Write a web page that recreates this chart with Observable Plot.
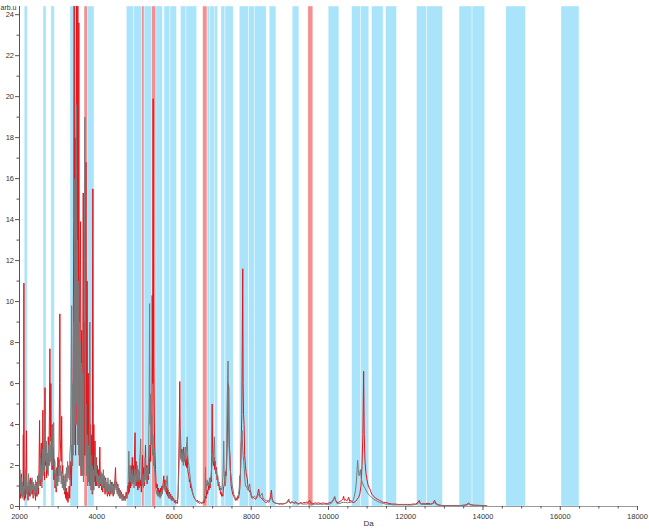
<!DOCTYPE html>
<html><head><meta charset="utf-8">
<script src="https://cdn.jsdelivr.net/npm/d3@7"></script>
<script src="https://cdn.jsdelivr.net/npm/@observablehq/plot@0.6"></script>
<style>body{margin:0;background:#fff}#chart svg{display:block;overflow:visible}</style>
</head><body><div id="chart"></div>
<script>
const xDomain = [2000, 18000];
const yDomain = [0, 24.4];
const xMajorTicks = [2000, 4000, 6000, 8000, 10000, 12000, 14000, 16000, 18000];
const xMinorTicks = [2500, 3000, 3500, 4500, 5000, 5500, 6500, 7000, 7500, 8500, 9000, 9500, 10500, 11000, 11500, 12500, 13000, 13500, 14500, 15000, 15500, 16500, 17000, 17500];
const yMajorTicks = [0, 2, 4, 6, 8, 10, 12, 14, 16, 18, 20, 22, 24];
const yMinorTicks = [1, 3, 5, 7, 9, 11, 13, 15, 17, 19, 21, 23];
const yLabel = "arb.u";
const xLabel = "Da";

const blueBands = [[2135,2215],[2620,2700],[2825,2915],[3320,3540],[3770,3943],[4778,4960],[4960,5177],[5236,5436],[5542,5715],[5754,5909],[5909,6077],[6180,6323],[6323,6600],[6866,6944],[6944,7055],[7055,7143],[7228,7332],[7332,7547],[7702,7943],[7943,8090],[8090,8401],[8478,8651],[9073,9246],[10004,10281],[10610,10850],[10850,11057],[11127,11427],[11489,11774],[12291,12550],[12550,12964],[13393,13730],[13730,14058],[14602,15112],[16032,16498]];
const redBands = [[3684,3770],[5177,5236],[5436,5542],[6755,6866],[9478,9608]];

const redSpectrum = [[2000,0.6],[2015,1.2],[2030,0.4],[2045,1.6],[2060,0.7],[2075,1.1],[2090,0.5],[2098,3.5],[2106,0.6],[2114,10.9],[2122,0.3],[2135,0.9],[2150,0.4],[2165,1.3],[2180,3.7],[2192,0.6],[2205,1.0],[2220,0.3],[2235,0.8],[2250,1.2],[2265,0.5],[2280,1.4],[2295,0.7],[2310,1.3],[2325,0.6],[2340,1.0],[2355,0.4],[2370,1.1],[2385,0.6],[2400,0.9],[2415,0.3],[2430,1.2],[2445,0.5],[2460,0.8],[2475,1.5],[2490,0.6],[2505,1.8],[2520,4.2],[2535,1.0],[2550,2.5],[2565,3.1],[2580,1.2],[2595,2.2],[2605,4.7],[2620,1.8],[2635,2.6],[2648,1.3],[2660,5.8],[2672,2.0],[2685,3.0],[2700,1.4],[2715,2.3],[2730,1.6],[2745,3.4],[2760,2.0],[2775,4.5],[2787,7.7],[2800,3.2],[2812,6.0],[2825,2.1],[2845,4.0],[2860,1.8],[2875,2.9],[2890,1.3],[2905,2.3],[2920,0.9],[2935,1.6],[2950,0.7],[2965,1.9],[2980,1.2],[2995,2.4],[3010,1.5],[3025,2.8],[3037,6.0],[3045,9.4],[3055,3.3],[3065,2.8],[3078,2.2],[3092,4.4],[3105,1.6],[3120,2.0],[3135,1.0],[3150,1.5],[3165,0.6],[3180,1.2],[3195,0.4],[3210,0.9],[3225,0.3],[3240,0.7],[3255,0.2],[3270,0.5],[3285,1.0],[3300,0.4],[3315,1.5],[3330,2.2],[3345,1.0],[3360,3.0],[3375,2.0],[3390,7.5],[3405,14.0],[3416,26],[3428,3.0],[3440,18.0],[3452,2.5],[3465,12.0],[3477,26],[3490,4.0],[3500,16.3],[3511,26],[3522,3.0],[3537,23.6],[3550,2.0],[3565,11.0],[3581,13.9],[3595,1.5],[3610,8.6],[3625,2.0],[3638,7.0],[3650,15.3],[3662,1.5],[3675,9.0],[3690,2.5],[3705,12.0],[3720,16.8],[3735,2.0],[3750,11.0],[3765,1.5],[3780,6.5],[3795,1.2],[3810,5.0],[3825,1.0],[3840,4.0],[3855,0.8],[3870,3.5],[3885,0.6],[3899,15.5],[3910,0.8],[3925,4.0],[3940,1.2],[3955,3.2],[3970,1.0],[3985,2.4],[4000,1.0],[4015,2.0],[4030,1.2],[4045,1.8],[4060,0.9],[4080,2.9],[4095,1.0],[4110,1.6],[4125,0.8],[4140,1.3],[4155,0.7],[4170,1.5],[4185,0.9],[4200,1.2],[4215,0.6],[4230,1.4],[4245,0.7],[4260,1.0],[4275,0.5],[4290,1.1],[4305,0.6],[4320,0.9],[4335,0.5],[4350,1.0],[4365,0.6],[4380,1.2],[4395,0.7],[4410,0.9],[4425,0.5],[4440,1.1],[4455,0.8],[4470,1.3],[4486,1.9],[4500,0.9],[4515,1.2],[4530,0.7],[4545,1.1],[4560,0.6],[4575,0.9],[4590,0.5],[4605,0.8],[4620,0.4],[4640,0.7],[4660,0.3],[4680,0.6],[4700,0.3],[4720,0.5],[4740,0.3],[4760,0.7],[4780,0.4],[4800,1.0],[4815,0.6],[4830,1.2],[4845,0.7],[4860,1.5],[4875,0.9],[4890,2.0],[4905,1.1],[4920,2.4],[4935,1.3],[4950,2.0],[4965,1.2],[4980,2.8],[4992,3.6],[5005,1.5],[5020,2.2],[5035,1.0],[5050,1.6],[5065,0.8],[5080,1.4],[5095,0.9],[5110,1.7],[5125,1.0],[5140,1.3],[5155,0.7],[5170,1.8],[5185,2.5],[5200,1.2],[5215,1.9],[5230,1.0],[5245,1.6],[5262,3.0],[5275,1.4],[5290,2.0],[5305,1.1],[5320,1.8],[5335,1.3],[5350,2.4],[5365,1.6],[5380,3.0],[5395,2.2],[5410,4.0],[5425,3.5],[5436,10.3],[5448,6.0],[5461,19.9],[5472,7.0],[5485,5.0],[5497,3.2],[5510,2.5],[5522,1.8],[5535,1.2],[5550,0.9],[5565,1.1],[5580,0.6],[5595,0.9],[5610,0.5],[5625,0.8],[5640,0.5],[5655,0.9],[5670,0.6],[5685,1.0],[5700,0.7],[5715,1.1],[5736,1.5],[5750,0.9],[5765,1.3],[5780,0.8],[5795,1.0],[5810,0.6],[5825,0.9],[5840,0.5],[5855,0.8],[5870,0.4],[5885,0.7],[5900,0.4],[5915,0.6],[5930,0.3],[5950,0.5],[5970,0.3],[5990,0.4],[6010,0.2],[6030,0.3],[6050,0.15],[6070,0.2],[6090,0.15],[6105,0.6],[6118,1.8],[6130,3.0],[6142,4.5],[6150,6.1],[6160,3.8],[6172,3.2],[6185,2.4],[6198,2.8],[6212,2.6],[6225,2.2],[6240,2.7],[6253,2.9],[6268,2.2],[6283,2.5],[6297,2.0],[6312,2.3],[6326,1.9],[6341,2.5],[6356,1.8],[6370,1.6],[6385,1.5],[6400,1.2],[6415,1.3],[6430,0.9],[6445,1.0],[6460,0.8],[6475,0.7],[6490,0.6],[6510,0.5],[6530,0.4],[6550,0.35],[6570,0.3],[6590,0.25],[6610,0.3],[6630,0.2],[6650,0.25],[6670,0.2],[6690,0.2],[6710,0.15],[6730,0.2],[6750,0.15],[6770,0.25],[6790,0.2],[6810,0.5],[6830,0.4],[6850,0.8],[6870,0.6],[6890,1.0],[6905,0.8],[6920,1.1],[6935,0.9],[6950,1.4],[6965,1.2],[6978,2.5],[6988,5.0],[6998,3.0],[7010,2.2],[7025,2.0],[7040,2.4],[7055,1.8],[7070,2.2],[7085,1.6],[7100,1.9],[7115,1.3],[7130,1.5],[7145,1.0],[7160,1.2],[7175,0.8],[7190,0.9],[7205,0.6],[7220,0.7],[7235,0.5],[7250,0.6],[7265,0.5],[7280,0.9],[7295,1.0],[7310,1.2],[7330,1.7],[7350,1.5],[7365,2.2],[7376,3.0],[7390,4.5],[7405,6.0],[7418,5.8],[7430,3.0],[7450,2.5],[7465,1.5],[7480,1.0],[7500,0.8],[7520,0.6],[7547,0.5],[7570,0.4],[7590,0.3],[7610,0.4],[7630,0.3],[7650,0.5],[7670,0.4],[7690,0.6],[7705,0.9],[7720,1.5],[7739,3.0],[7755,4.5],[7768,8.0],[7780,11.6],[7790,6.0],[7800,4.5],[7815,4.0],[7830,2.5],[7850,2.0],[7870,1.6],[7893,1.4],[7915,1.0],[7936,0.8],[7960,0.7],[7980,0.8],[8000,0.5],[8023,0.4],[8050,0.45],[8080,0.4],[8110,0.35],[8140,0.45],[8165,0.6],[8180,0.75],[8193,0.85],[8210,0.6],[8230,0.45],[8255,0.4],[8280,0.4],[8310,0.3],[8340,0.25],[8366,0.2],[8400,0.2],[8430,0.25],[8452,0.2],[8480,0.3],[8500,0.55],[8522,0.8],[8540,0.4],[8565,0.25],[8600,0.2],[8640,0.15],[8680,0.15],[8720,0.12],[8760,0.15],[8800,0.12],[8840,0.15],[8880,0.15],[8920,0.2],[8950,0.3],[8969,0.35],[8990,0.2],[9020,0.18],[9055,0.25],[9090,0.18],[9120,0.15],[9160,0.2],[9200,0.15],[9240,0.15],[9280,0.2],[9320,0.15],[9360,0.2],[9400,0.18],[9440,0.22],[9480,0.2],[9510,0.3],[9540,0.18],[9580,0.15],[9620,0.15],[9660,0.18],[9700,0.15],[9740,0.18],[9780,0.15],[9820,0.15],[9860,0.18],[9900,0.15],[9940,0.15],[9980,0.15],[10020,0.18],[10060,0.2],[10100,0.25],[10130,0.35],[10160,0.45],[10185,0.3],[10220,0.2],[10260,0.2],[10300,0.25],[10340,0.3],[10370,0.35],[10392,0.5],[10410,0.3],[10440,0.35],[10462,0.3],[10490,0.3],[10523,0.45],[10550,0.25],[10583,0.3],[10620,0.2],[10660,0.2],[10700,0.25],[10740,0.35],[10780,0.45],[10810,0.6],[10840,1.0],[10868,2.0],[10890,3.5],[10910,6.6],[10925,3.5],[10945,2.2],[10970,1.6],[10997,1.3],[11030,1.0],[11060,0.9],[11083,0.8],[11120,0.6],[11170,0.5],[11220,0.4],[11270,0.35],[11320,0.3],[11370,0.25],[11420,0.2],[11470,0.2],[11515,0.18],[11570,0.15],[11640,0.12],[11720,0.12],[11800,0.1],[11880,0.1],[11960,0.1],[12040,0.1],[12120,0.1],[12200,0.12],[12260,0.12],[12310,0.2],[12350,0.3],[12380,0.15],[12420,0.12],[12460,0.15],[12500,0.12],[12550,0.15],[12600,0.15],[12640,0.12],[12700,0.15],[12746,0.3],[12780,0.15],[12830,0.1],[12890,0.06],[12960,0.05],[13050,0.05],[13150,0.04],[13250,0.05],[13350,0.05],[13450,0.05],[13550,0.08],[13600,0.12],[13627,0.18],[13660,0.1],[13713,0.08],[13780,0.06],[13850,0.06],[13950,0.05],[14050,0.04],[14100,0.03]];

const greySpectrum = [[2000,1.0],[2012,1.8],[2025,0.6],[2040,1.4],[2055,0.5],[2070,1.2],[2085,0.4],[2100,1.0],[2115,0.5],[2130,1.5],[2145,0.8],[2160,1.8],[2175,0.6],[2190,1.2],[2205,0.4],[2220,1.0],[2235,1.6],[2250,0.7],[2265,1.3],[2280,0.5],[2295,1.1],[2310,0.6],[2325,1.4],[2340,0.8],[2355,1.2],[2370,0.5],[2385,1.0],[2400,0.6],[2415,1.3],[2430,0.7],[2445,1.1],[2460,0.5],[2475,1.4],[2490,0.9],[2505,1.6],[2520,1.1],[2535,2.4],[2550,1.3],[2565,2.0],[2580,0.9],[2595,2.8],[2610,1.5],[2625,3.0],[2640,1.7],[2655,3.5],[2668,4.5],[2680,2.2],[2695,3.2],[2710,1.8],[2725,2.6],[2740,1.5],[2755,3.0],[2770,2.0],[2785,3.4],[2800,2.2],[2815,3.0],[2830,1.8],[2845,3.9],[2860,2.0],[2885,4.1],[2900,1.6],[2915,2.2],[2930,1.0],[2945,1.8],[2960,0.9],[2975,1.5],[2990,1.0],[3005,1.9],[3020,1.2],[3035,2.3],[3050,1.5],[3065,2.0],[3080,1.1],[3095,1.7],[3110,0.9],[3125,1.5],[3140,0.8],[3155,1.3],[3170,0.7],[3185,1.6],[3200,1.0],[3215,1.9],[3230,1.2],[3245,2.2],[3260,1.4],[3275,2.0],[3290,1.3],[3305,2.6],[3320,3.0],[3335,5.5],[3350,9.8],[3362,2.0],[3375,6.0],[3390,2.5],[3405,9.0],[3420,3.0],[3432,16.0],[3445,4.0],[3458,14.0],[3470,19.6],[3482,5.0],[3495,13.0],[3508,3.0],[3520,11.0],[3535,2.5],[3550,9.0],[3565,2.0],[3580,8.0],[3595,1.8],[3610,7.0],[3625,1.5],[3640,6.5],[3655,1.2],[3670,8.0],[3682,12.0],[3692,19.0],[3705,2.5],[3720,5.0],[3735,1.5],[3750,3.5],[3765,1.0],[3780,3.0],[3795,1.2],[3810,3.5],[3821,9.0],[3835,1.0],[3850,2.5],[3865,0.8],[3880,2.0],[3895,0.7],[3910,1.8],[3925,0.8],[3940,1.8],[3955,2.5],[3970,1.5],[3985,2.0],[4000,1.2],[4015,1.6],[4030,1.0],[4045,1.5],[4060,0.9],[4080,1.5],[4095,1.1],[4110,1.7],[4125,1.0],[4140,1.6],[4155,0.9],[4170,1.8],[4185,1.0],[4200,1.5],[4215,0.8],[4230,1.3],[4245,0.7],[4260,1.2],[4275,0.6],[4290,1.4],[4305,0.7],[4320,1.1],[4335,0.6],[4350,1.3],[4365,0.7],[4380,1.1],[4395,0.6],[4410,1.2],[4425,0.7],[4440,1.0],[4455,0.6],[4470,1.2],[4486,1.4],[4500,0.8],[4515,1.1],[4530,0.6],[4545,1.0],[4560,0.5],[4575,0.8],[4590,0.4],[4605,0.7],[4620,0.4],[4640,0.6],[4660,0.3],[4680,0.5],[4700,0.3],[4720,0.4],[4740,0.3],[4760,0.5],[4780,0.4],[4800,0.8],[4815,1.2],[4830,2.7],[4845,1.4],[4860,2.0],[4875,1.2],[4890,1.6],[4905,1.0],[4920,1.8],[4935,1.1],[4950,1.5],[4965,0.9],[4980,1.4],[4992,1.8],[5005,1.0],[5020,1.6],[5035,1.2],[5050,2.0],[5065,1.3],[5080,1.8],[5095,1.2],[5110,2.2],[5125,2.6],[5138,3.3],[5150,1.8],[5165,1.4],[5180,1.0],[5195,1.5],[5210,0.9],[5225,1.6],[5240,1.2],[5255,2.4],[5270,1.3],[5285,1.9],[5300,1.2],[5315,2.0],[5330,1.5],[5345,3.0],[5357,5.0],[5368,9.9],[5380,4.0],[5395,5.5],[5410,3.0],[5425,4.5],[5440,2.5],[5455,3.5],[5470,2.0],[5485,2.8],[5497,1.8],[5510,1.5],[5522,1.0],[5535,0.8],[5550,0.6],[5565,0.8],[5580,0.5],[5595,0.7],[5610,0.5],[5625,0.6],[5640,0.4],[5655,0.7],[5670,0.5],[5685,0.8],[5700,0.6],[5715,0.9],[5736,1.1],[5750,0.8],[5765,1.0],[5780,0.7],[5800,1.1],[5823,1.5],[5840,0.9],[5855,0.7],[5870,0.5],[5885,0.6],[5900,0.4],[5915,0.5],[5930,0.35],[5950,0.4],[5970,0.3],[5990,0.35],[6010,0.3],[6030,0.3],[6050,0.25],[6070,0.3],[6090,0.3],[6105,0.5],[6118,1.2],[6130,2.0],[6142,3.0],[6155,3.8],[6165,2.8],[6178,2.3],[6190,2.6],[6205,2.2],[6212,2.8],[6225,2.4],[6240,2.0],[6253,2.3],[6268,2.6],[6283,2.2],[6297,2.9],[6312,2.5],[6326,3.0],[6341,3.4],[6356,2.5],[6370,2.2],[6385,2.0],[6400,1.7],[6415,1.5],[6430,1.2],[6445,1.1],[6460,0.9],[6475,0.8],[6490,0.6],[6510,0.5],[6530,0.4],[6550,0.35],[6570,0.3],[6590,0.25],[6610,0.2],[6630,0.2],[6650,0.15],[6670,0.15],[6690,0.2],[6710,0.15],[6730,0.2],[6750,0.2],[6770,0.3],[6790,0.4],[6805,0.9],[6815,1.9],[6825,0.8],[6840,1.0],[6858,1.3],[6875,1.0],[6890,1.2],[6905,1.0],[6920,1.4],[6935,1.1],[6950,1.3],[6965,1.6],[6980,2.0],[6995,2.4],[7010,2.2],[7025,2.6],[7035,3.0],[7047,3.4],[7060,2.2],[7073,2.0],[7088,1.6],[7100,1.8],[7115,1.4],[7130,1.5],[7145,1.1],[7160,1.2],[7175,0.9],[7190,1.0],[7205,0.8],[7220,0.9],[7235,0.8],[7250,1.0],[7265,1.4],[7278,2.2],[7288,3.2],[7300,1.6],[7315,1.2],[7330,1.0],[7350,1.6],[7365,2.8],[7376,5.0],[7390,6.2],[7400,7.1],[7412,4.0],[7425,3.0],[7440,2.2],[7455,1.8],[7470,1.6],[7485,1.4],[7500,1.1],[7520,0.9],[7547,0.6],[7570,0.5],[7590,0.4],[7610,0.4],[7630,0.4],[7650,0.5],[7670,0.6],[7690,0.9],[7703,1.5],[7715,1.3],[7728,2.2],[7739,3.0],[7752,3.4],[7763,3.7],[7775,3.0],[7790,2.5],[7805,2.2],[7820,1.8],[7835,1.3],[7850,1.0],[7870,1.0],[7893,0.9],[7915,0.8],[7936,0.9],[7960,1.1],[7980,0.7],[8000,0.55],[8023,0.5],[8050,0.45],[8080,0.5],[8110,0.45],[8140,0.4],[8165,0.5],[8193,0.6],[8220,0.5],[8250,0.55],[8280,0.65],[8300,0.45],[8330,0.35],[8366,0.3],[8400,0.3],[8430,0.3],[8452,0.3],[8480,0.35],[8500,0.4],[8522,0.5],[8545,0.3],[8570,0.2],[8600,0.18],[8640,0.15],[8680,0.15],[8720,0.12],[8760,0.12],[8800,0.12],[8840,0.12],[8880,0.15],[8920,0.18],[8950,0.22],[8969,0.3],[8990,0.2],[9020,0.15],[9055,0.2],[9090,0.18],[9120,0.2],[9142,0.25],[9170,0.15],[9200,0.12],[9240,0.12],[9280,0.15],[9320,0.12],[9360,0.12],[9400,0.12],[9440,0.12],[9480,0.15],[9520,0.12],[9560,0.12],[9600,0.1],[9660,0.12],[9720,0.1],[9780,0.12],[9840,0.1],[9900,0.12],[9960,0.1],[10020,0.12],[10070,0.15],[10110,0.25],[10140,0.4],[10160,0.5],[10180,0.3],[10220,0.15],[10260,0.15],[10300,0.15],[10350,0.2],[10392,0.2],[10440,0.2],[10490,0.18],[10530,0.2],[10580,0.2],[10620,0.25],[10650,0.35],[10670,0.5],[10700,0.8],[10722,1.2],[10740,1.8],[10755,2.25],[10770,1.8],[10790,1.5],[10808,1.6],[10825,1.8],[10845,1.4],[10868,1.2],[10890,1.1],[10910,1.0],[10945,0.9],[10970,0.8],[10997,0.7],[11030,0.6],[11060,0.55],[11083,0.5],[11120,0.45],[11170,0.35],[11220,0.3],[11270,0.25],[11320,0.2],[11370,0.18],[11420,0.15],[11470,0.12],[11520,0.12],[11600,0.1],[11700,0.08],[11800,0.08],[11900,0.08],[12000,0.08],[12100,0.07],[12200,0.08],[12280,0.1],[12320,0.15],[12350,0.22],[12380,0.12],[12450,0.1],[12550,0.1],[12650,0.1],[12746,0.18],[12800,0.08],[12900,0.05],[13000,0.04],[13150,0.04],[13300,0.04],[13450,0.05],[13560,0.06],[13627,0.12],[13680,0.08],[13750,0.06],[13850,0.05],[13950,0.04],[14050,0.03],[14100,0.02]];

const bandStyle = {x1: d => d[0], x2: d => d[1], y1: yDomain[0], y2: yDomain[1], stroke: "#ffffff", strokeOpacity: 0.7, strokeWidth: 0.6};

const chart = Plot.plot({
  width: 649,
  height: 529,
  marginLeft: 19,
  marginRight: 12,
  marginTop: 6,
  marginBottom: 23,
  style: {fontFamily: "'Liberation Sans', Arial, sans-serif", fontSize: "7.5px", color: "#333", background: "#fff"},
  x: {domain: xDomain},
  y: {domain: yDomain},
  marks: [
    Plot.rect(blueBands, {...bandStyle, fill: "#a9e4fb"}),
    Plot.rect(redBands, {...bandStyle, fill: "#f58e8e"}),
    Plot.line(redSpectrum, {x: d => d[0], y: d => d[1], stroke: "#e3141a", strokeWidth: 1, clip: true}),
    Plot.line(greySpectrum, {x: d => d[0], y: d => d[1], stroke: "#7a7a7a", strokeWidth: 1, clip: true}),
    Plot.ruleY([yDomain[0]], {stroke: "#9a9a9a", strokeWidth: 1}),
    Plot.ruleX([xDomain[0]], {stroke: "#555", strokeWidth: 1}),
    Plot.axisY(yMajorTicks, {tickSize: 4, tickPadding: 1.5, label: null, stroke: "#555", fontSize: 7.5, tickFormat: d3.format("d")}),
    Plot.axisY(yMinorTicks, {tickSize: 2.5, tickFormat: () => "", label: null, stroke: "#555"}),
    Plot.axisX(xMajorTicks, {tickSize: 4, tickPadding: 3, label: null, stroke: "#555", fontSize: 7.5, tickFormat: d3.format("d")}),
    Plot.axisX(xMinorTicks, {tickSize: 2.5, tickFormat: () => "", label: null, stroke: "#555"}),
    Plot.text([yLabel], {frameAnchor: "top-left", dx: -19, dy: -1.5, textAnchor: "start", fill: "#333", fontSize: 7}),
    Plot.text([xLabel], {frameAnchor: "bottom", dx: 40, dy: 19, fill: "#333", fontSize: 8})
  ]
});
document.getElementById("chart").append(chart);
</script>
</body></html>
